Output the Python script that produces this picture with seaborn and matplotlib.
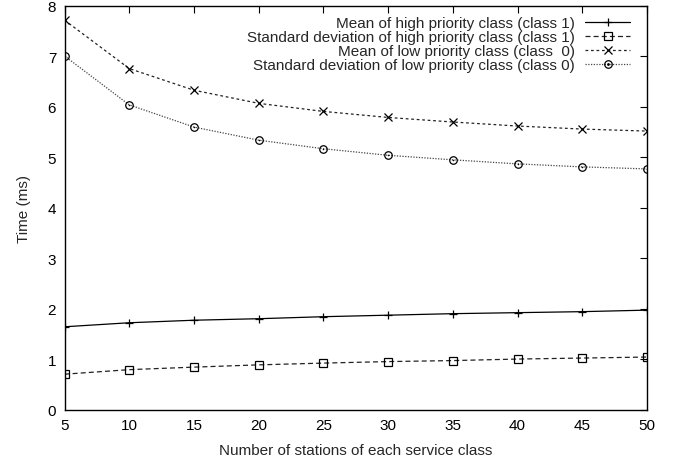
import matplotlib
matplotlib.use("Agg")
import matplotlib.pyplot as plt
import seaborn as sns
import pandas as pd
from matplotlib.lines import Line2D
from matplotlib.legend_handler import HandlerTuple

stations = [5, 10, 15, 20, 25, 30, 35, 40, 45, 50]
mean_high = [1.64, 1.72, 1.77, 1.80, 1.84, 1.87, 1.90, 1.92, 1.94, 1.97]
std_high = [0.70, 0.79, 0.84, 0.885, 0.92, 0.95, 0.97, 1.00, 1.02, 1.04]
mean_low = [7.72, 6.76, 6.33, 6.07, 5.91, 5.79, 5.70, 5.62, 5.56, 5.52]
std_low = [7.01, 6.04, 5.60, 5.34, 5.17, 5.04, 4.95, 4.87, 4.81, 4.77]

labels = [
    "Mean of high priority class (class 1)",
    "Standard deviation of high priority class (class 1)",
    "Mean of low priority class (class  0)",
    "Standard deviation of low priority class (class 0)",
]
xlabel = "Number of stations of each service class"
ylabel = "Time (ms)"

df = pd.DataFrame({
    "x": stations,
    "mh": mean_high,
    "sh": std_high,
    "ml": mean_low,
    "sl": std_low,
})

sns.set_style("white")
plt.rcParams["font.family"] = ["Liberation Sans", "DejaVu Sans"]
FS = 11

fig = plt.figure(figsize=(6.78, 4.64), dpi=100)
ax = fig.add_axes([64.5 / 678, 1 - 410.5 / 464, (647 - 64.5) / 678, (410.5 - 7) / 464])

common = dict(markeredgecolor="black", markerfacecolor="none",
              markeredgewidth=0.9, linewidth=0.9, legend=False)

sns.lineplot(data=df, x="x", y="mh", ax=ax, marker="+", markersize=6,
             linestyle="-", color="black", **common)
sns.lineplot(data=df, x="x", y="sh", ax=ax, marker="s", markersize=5.2,
             linestyle=(0, (4, 2.5)), color="#222222", **common)
sns.lineplot(data=df, x="x", y="ml", ax=ax, marker="x", markersize=5.2,
             linestyle=(0, (2.2, 2.2)), color="#222222", **common)
sns.lineplot(data=df, x="x", y="sl", ax=ax, marker="o", markersize=5.4,
             linestyle=(0, (1, 1.2)), color="#444444", **common)
sns.scatterplot(data=df, x="x", y="sl", ax=ax, marker=".", s=2.5, color="black",
                edgecolor="black", linewidth=0.3, legend=False, zorder=5)

ax.set_xlim(5, 50)
ax.set_ylim(0, 8)
ax.set_xticks(stations)
ax.set_yticks(range(0, 9))
ax.tick_params(direction="in", length=5, width=0.8, top=True, right=True,
               labelsize=FS, pad=6, colors="black")
for sp in ax.spines.values():
    sp.set_visible(True)
    sp.set_color("black")
    sp.set_linewidth(1.0)

ax.set_xlabel(xlabel, fontsize=FS)
ax.set_ylabel(ylabel, fontsize=FS)
ax.xaxis.set_label_coords(0.5, -0.083)
ax.yaxis.set_label_coords(-0.058, 0.5)

lines = ax.get_lines()
dot_handle = Line2D([], [], marker=".", markersize=2, color="black", linestyle="none")
handles = [lines[0], lines[1], lines[2], (lines[3], dot_handle)]
ax.legend(handles, labels, loc="upper right", bbox_to_anchor=(0.971, 0.975),
          frameon=False, markerfirst=False, fontsize=FS, handlelength=2.95,
          handletextpad=0.65, labelspacing=0.0, borderpad=0, borderaxespad=0,
          handler_map={tuple: HandlerTuple(ndivide=1, pad=0)})

fig.savefig("out.png", dpi=100)
